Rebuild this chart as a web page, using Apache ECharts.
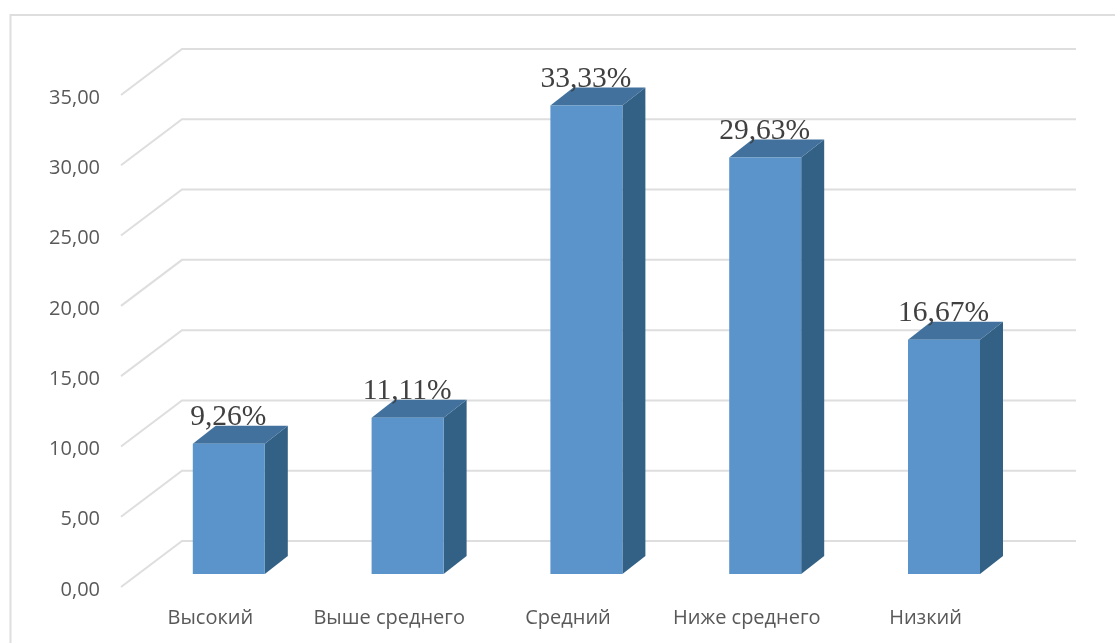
<!DOCTYPE html>
<html><head><meta charset="utf-8">
<style>html,body{margin:0;padding:0;background:#fff}#c{width:1115px;height:643px}</style>
<script src="https://cdn.jsdelivr.net/npm/echarts@6/dist/echarts.min.js"></script>
</head><body><div id="c"></div>
<script>
const categories = ['Высокий','Выше среднего','Средний','Ниже среднего','Низкий'];
const values = [9.26,11.11,33.33,29.63,16.67];
const valueLabels = ['9,26%','11,11%','33,33%','29,63%','16,67%'];
const gridTicks = [0,5,10,15,20,25,30,35];

const DX = 61, DY = -46;      // wall depth
const OX = 18.4, OY = -13;    // bar front offset from axis plane
const BW = 72, BDX = 23, BDY = -18; // bar width, depth

const chart = echarts.init(document.getElementById('c'), null, {renderer:'canvas'});

function wallItem(params, api){
  const v = api.value(0);
  const a = api.coord([0, v]);
  const left = params.coordSys.x, right = left + params.coordSys.width;
  const y = a[1];
  return {type:'group', children:[
    {type:'polyline', shape:{points:[[left,y],[left+DX,y+DY],[right+DX,y+DY]]},
     style:{stroke:'#dedede', lineWidth:2, fill:null}}
  ]};
}
function barItem(params, api){
  const c = api.coord([api.value(0), api.value(1)]);
  const b = api.coord([api.value(0), 0]);
  const xl = c[0] + OX - BW/2, xr = xl + BW;
  const yt = c[1] + OY, yb = b[1] + OY;
  return {type:'group', children:[
    {type:'polygon', shape:{points:[[xr,yt],[xr+BDX,yt+BDY],[xr+BDX,yb+BDY],[xr,yb]]},
      style:{fill:'#336185'}},
    {type:'polygon', shape:{points:[[xl,yt],[xl+BDX,yt+BDY],[xr+BDX,yt+BDY],[xr,yt]]},
      style:{fill:'#41719c'}},
    {type:'rect', shape:{x:xl,y:yt,width:BW,height:yb-yt}, style:{fill:'#5b93cb'}}
  ]};
}
function labelItem(params, api){
  const c = api.coord([api.value(0), api.value(1)]);
  return {type:'text', x:c[0]+OX+BDX/2-12, y:c[1]+OY+BDY-8.5,
    style:{text:valueLabels[params.dataIndex], fill:'#404040',
      font:'29.5px "Liberation Serif"', align:'center', verticalAlign:'middle'}, z2:10};
}

chart.setOption({
  animation:false,
  backgroundColor:'#fff',
  graphic:[{type:'polyline', shape:{points:[[10.5,643],[10.5,15],[1115,15]]},
    style:{fill:'none',stroke:'#dedede',lineWidth:2}, silent:true, z:-1}],
  grid:{left:121,top:95,width:894,height:492,containLabel:false},
  xAxis:{type:'category',data:categories,axisLine:{show:false},axisTick:{show:false},
    axisLabel:{color:'#595959',fontFamily:'Open Sans',fontSize:20,margin:21,interval:0}},
  yAxis:{type:'value',min:0,max:35,interval:5,splitLine:{show:false},axisLine:{show:false},axisTick:{show:false},
    axisLabel:{color:'#595959',fontFamily:'Open Sans',fontSize:20,margin:21,verticalAlign:'top',lineHeight:6,
      formatter:v=>v.toFixed(2).replace('.',',')}},
  series:[
    {type:'custom',renderItem:wallItem,data:gridTicks.map(v=>[v]),encode:{y:0},z:1,silent:true,clip:false},
    {type:'custom',renderItem:barItem,data:categories.map((c,i)=>[i,values[i]]),encode:{x:0,y:1},z:2,silent:true,clip:false},
    {type:'custom',renderItem:labelItem,data:categories.map((c,i)=>[i,values[i]]),encode:{x:0,y:1},z:3,silent:true,clip:false}
  ]
});
</script></body></html>
